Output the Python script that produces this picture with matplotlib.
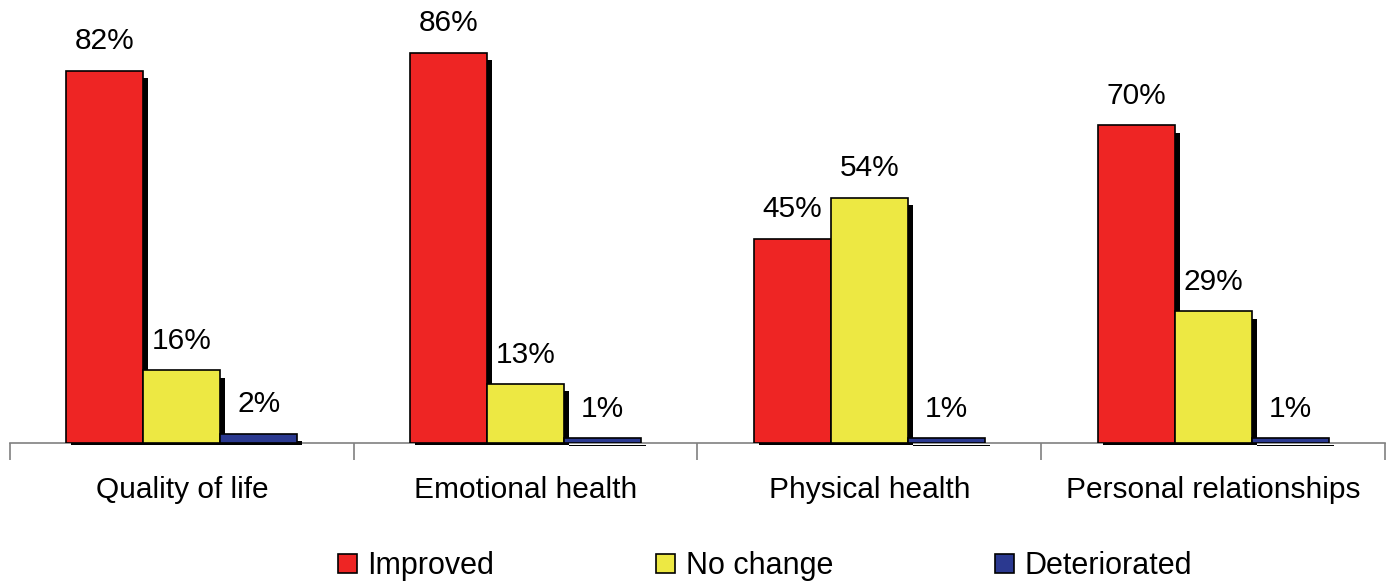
import matplotlib.pyplot as plt
import numpy as np

plt.rcParams['font.family'] = ['Liberation Sans', 'DejaVu Sans']

categories = ['Quality of life', 'Emotional health', 'Physical health', 'Personal relationships']
improved = [82, 86, 45, 70]
no_change = [16, 13, 54, 29]
deteriorated = [2, 1, 1, 1]
series_names = ['Improved', 'No change', 'Deteriorated']
colors = ['#EE2524', '#EDE843', '#2B3990']

fig = plt.figure(figsize=(13.9, 5.82), dpi=100)
ax = fig.add_axes([10 / 1390, 1 - 443 / 582, 1375 / 1390, 443 / 582])

x = np.arange(len(categories))
width = 0.224
offsets = [-width, 0, width]
# shadow offset (data units)
sdx, sdy = 0.0145, 0.5

for vals, off, col, name in zip([improved, no_change, deteriorated], offsets, colors, series_names):
    ax.bar(x + off + sdx, np.array(vals) - 1.1, width, bottom=-sdy, color='black', zorder=1, clip_on=False)
    ax.bar(x + off, vals, width, color=col, edgecolor='black', linewidth=1.2, zorder=2, label=name)
    for xi, v in zip(x + off, vals):
        ax.text(xi, v + 3.4, f'{v}%', ha='center', va='bottom', fontsize=21.5)

ax.set_xlim(-0.5, len(categories) - 0.5)
ax.set_ylim(0, 97.6)
ax.set_yticks([])
for s in ['left', 'right', 'top']:
    ax.spines[s].set_visible(False)
ax.spines['bottom'].set_color('#808080')
ax.spines['bottom'].set_linewidth(1.2)
ax.spines['bottom'].set_zorder(0)

ax.set_xticks(x)
ax.set_xticklabels(categories, fontsize=21.5)
ax.tick_params(axis='x', which='major', length=0, pad=24)
ax.set_xticks(np.arange(-0.5, len(categories)), minor=True)
ax.tick_params(axis='x', which='minor', length=12, color='#808080', width=1.2)

fig.legend(loc='center', bbox_to_anchor=(0.5504, 1 - 566 / 582), ncol=3, frameon=False,
           fontsize=22, handlelength=0.62, handleheight=0.6, handletextpad=0.34,
           columnspacing=5.3, borderpad=0)

fig.savefig('out.png', dpi=100)
